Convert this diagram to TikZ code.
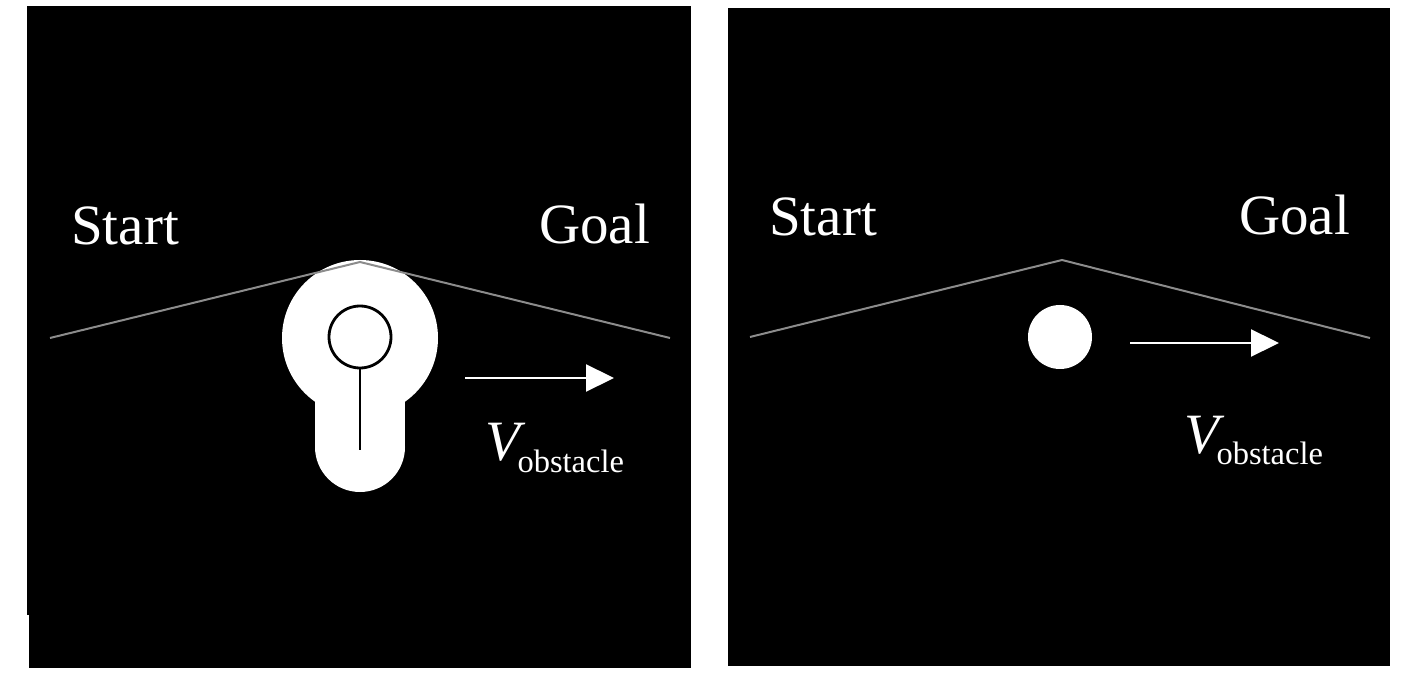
\documentclass[tikz,border=0pt]{standalone}
\usepackage{fontspec}
\setmainfont{Liberation Serif}
\usetikzlibrary{arrows.meta}
\begin{document}
\begin{tikzpicture}[x=1pt,y=-1pt,
  lbl/.style={text=white,inner sep=0pt,anchor=base west,font=\fontsize{57}{57}\selectfont},
  pathline/.style={draw=black!45,line width=2pt},
  velarrow/.style={draw=white,line width=2.2pt,-{Triangle[length=28pt,width=27pt]}},
  panel/.style={fill=black}]
\useasboundingbox (0,0) rectangle (1417,676);
% panels
\fill[panel] (27,6) rectangle (691,615);
\fill[panel] (29,6) rectangle (691,668);
\fill[panel] (728,8) rectangle (1390,666);
% left obstacle
\fill[white] (360,338) circle (78);
\fill[white] (315,338) rectangle (405,447);
\fill[white] (360,447) circle (45);
\draw[black,line width=2.8pt] (360,337) circle (31);
\coordinate (stemtop) at (360,368);
\coordinate (stembot) at (360,450);
\draw[black,line width=2.2pt] (stemtop) -- (stembot);
% left path
\coordinate (ls) at (50,338);
\coordinate (lp) at (360,262);
\coordinate (lg) at (670,338);
\draw[pathline] (ls) -- (lp) -- (lg);
% left labels
\node[lbl] (lstart) at (71,245) {Start};
\node[lbl] (lgoal) at (539,244) {Goal};
\coordinate (la0) at (465,378);
\coordinate (la1) at (614,378);
\draw[velarrow] (la0) -- (la1);
\node[lbl] (lv) at (485,460) {\textit{V}\kern-8pt\raisebox{-13pt}{\fontsize{32.5}{33}\selectfont obstacle}};
% right obstacle
\fill[white] (1060,337) circle (32);
% right path
\coordinate (rs) at (750,337);
\coordinate (rp) at (1062,260);
\coordinate (rg) at (1370,338);
\draw[pathline] (rs) -- (rp) -- (rg);
\node[lbl] (rstart) at (769,236) {Start};
\node[lbl] (rgoal) at (1239,235) {Goal};
\coordinate (ra0) at (1130,343);
\coordinate (ra1) at (1279,343);
\draw[velarrow] (ra0) -- (ra1);
\node[lbl] (rv) at (1184,453) {\textit{V}\kern-8pt\raisebox{-12pt}{\fontsize{32.5}{33}\selectfont obstacle}};
\end{tikzpicture}
\end{document}
